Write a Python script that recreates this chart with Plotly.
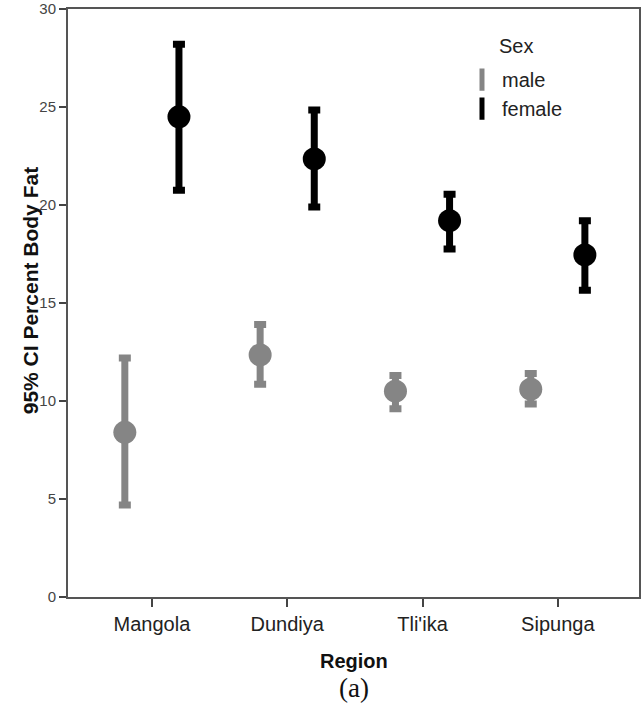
import plotly.graph_objects as go

# Region categories and 95% CI summaries of percent body fat
regions = ["Mangola", "Dundiya", "Tli'ika", "Sipunga"]

male_mean = [8.4, 12.35, 10.5, 10.6]
male_upper = [12.2, 13.9, 11.3, 11.4]
male_lower = [4.7, 10.85, 9.6, 9.85]

female_mean = [24.5, 22.35, 19.2, 17.45]
female_upper = [28.2, 24.85, 20.55, 19.2]
female_lower = [20.75, 19.9, 17.75, 15.65]

sex_labels = ["male", "female"]
sex_colors = ["#858585", "#000000"]
dodge = [-0.2, 0.2]

fig = go.Figure()

series = [
    (male_mean, male_upper, male_lower),
    (female_mean, female_upper, female_lower),
]

for (mean, upper, lower), name, color, off in zip(series, sex_labels, sex_colors, dodge):
    xs = [i + off for i in range(len(regions))]
    fig.add_trace(go.Scatter(
        x=xs, y=mean, mode="markers", name=name, showlegend=False,
        marker=dict(symbol="circle", size=23, color=color),
        error_y=dict(
            type="data", symmetric=False,
            array=[u - m for u, m in zip(upper, mean)],
            arrayminus=[m - l for m, l in zip(mean, lower)],
            color=color, thickness=7, width=6,
        ),
    ))
    # legend key drawn as a vertical bar swatch
    fig.add_trace(go.Scatter(
        x=[None], y=[None], mode="markers", name=name,
        marker=dict(symbol="line-ns-open", size=16, color=color,
                    line=dict(color=color, width=10)),
    ))

fig.update_layout(
    width=642, height=705,
    margin=dict(l=68, r=3, t=9, b=108),
    paper_bgcolor="white", plot_bgcolor="white",
    font=dict(family="Liberation Sans, Arial, sans-serif", color="#222"),
    showlegend=True,
    legend=dict(
        x=0.69, y=0.913, xanchor="left", yanchor="top",
        bgcolor="rgba(0,0,0,0)", font=dict(size=20, color="#222"),
        itemsizing="trace",
    ),
    xaxis=dict(
        range=[-0.62, 3.6], automargin=False,
        tickmode="array", tickvals=list(range(len(regions))), ticktext=regions,
        ticks="outside", ticklen=8, tickwidth=1.5, tickcolor="#444",
        tickfont=dict(size=20, color="#222"),
        showline=True, linecolor="#555", linewidth=2, mirror=True,
        showgrid=False, zeroline=False,
    ),
    yaxis=dict(
        range=[0, 30], automargin=False,
        tickvals=[0, 5, 10, 15, 20, 25, 30],
        ticks="outside", ticklen=7, tickwidth=1.5, tickcolor="#444",
        tickfont=dict(size=15, color="#444"),
        showline=True, linecolor="#555", linewidth=2, mirror=True,
        showgrid=False, zeroline=False,
    ),
)

# axis titles, legend heading and panel label
fig.add_annotation(
    text="<b>95% CI Percent Body Fat</b>", textangle=-90,
    x=-0.0665, y=0.52, xref="paper", yref="paper",
    xanchor="center", yanchor="middle", showarrow=False,
    font=dict(size=21, color="#111"),
)
fig.add_annotation(
    text="<b>Region</b>", x=0.5, y=-0.109, xref="paper", yref="paper",
    xanchor="center", yanchor="middle", showarrow=False,
    font=dict(size=20, color="#111"),
)
fig.add_annotation(
    text="Sex", x=0.751, y=0.937, xref="paper", yref="paper",
    xanchor="left", yanchor="middle", showarrow=False,
    font=dict(size=20, color="#222"),
)
fig.add_annotation(
    text="(a)", x=0.5, y=-0.155, xref="paper", yref="paper",
    xanchor="center", yanchor="middle", showarrow=False,
    font=dict(size=27, color="#111", family="Liberation Serif, Times New Roman, serif"),
)

fig.write_html("out.html")
